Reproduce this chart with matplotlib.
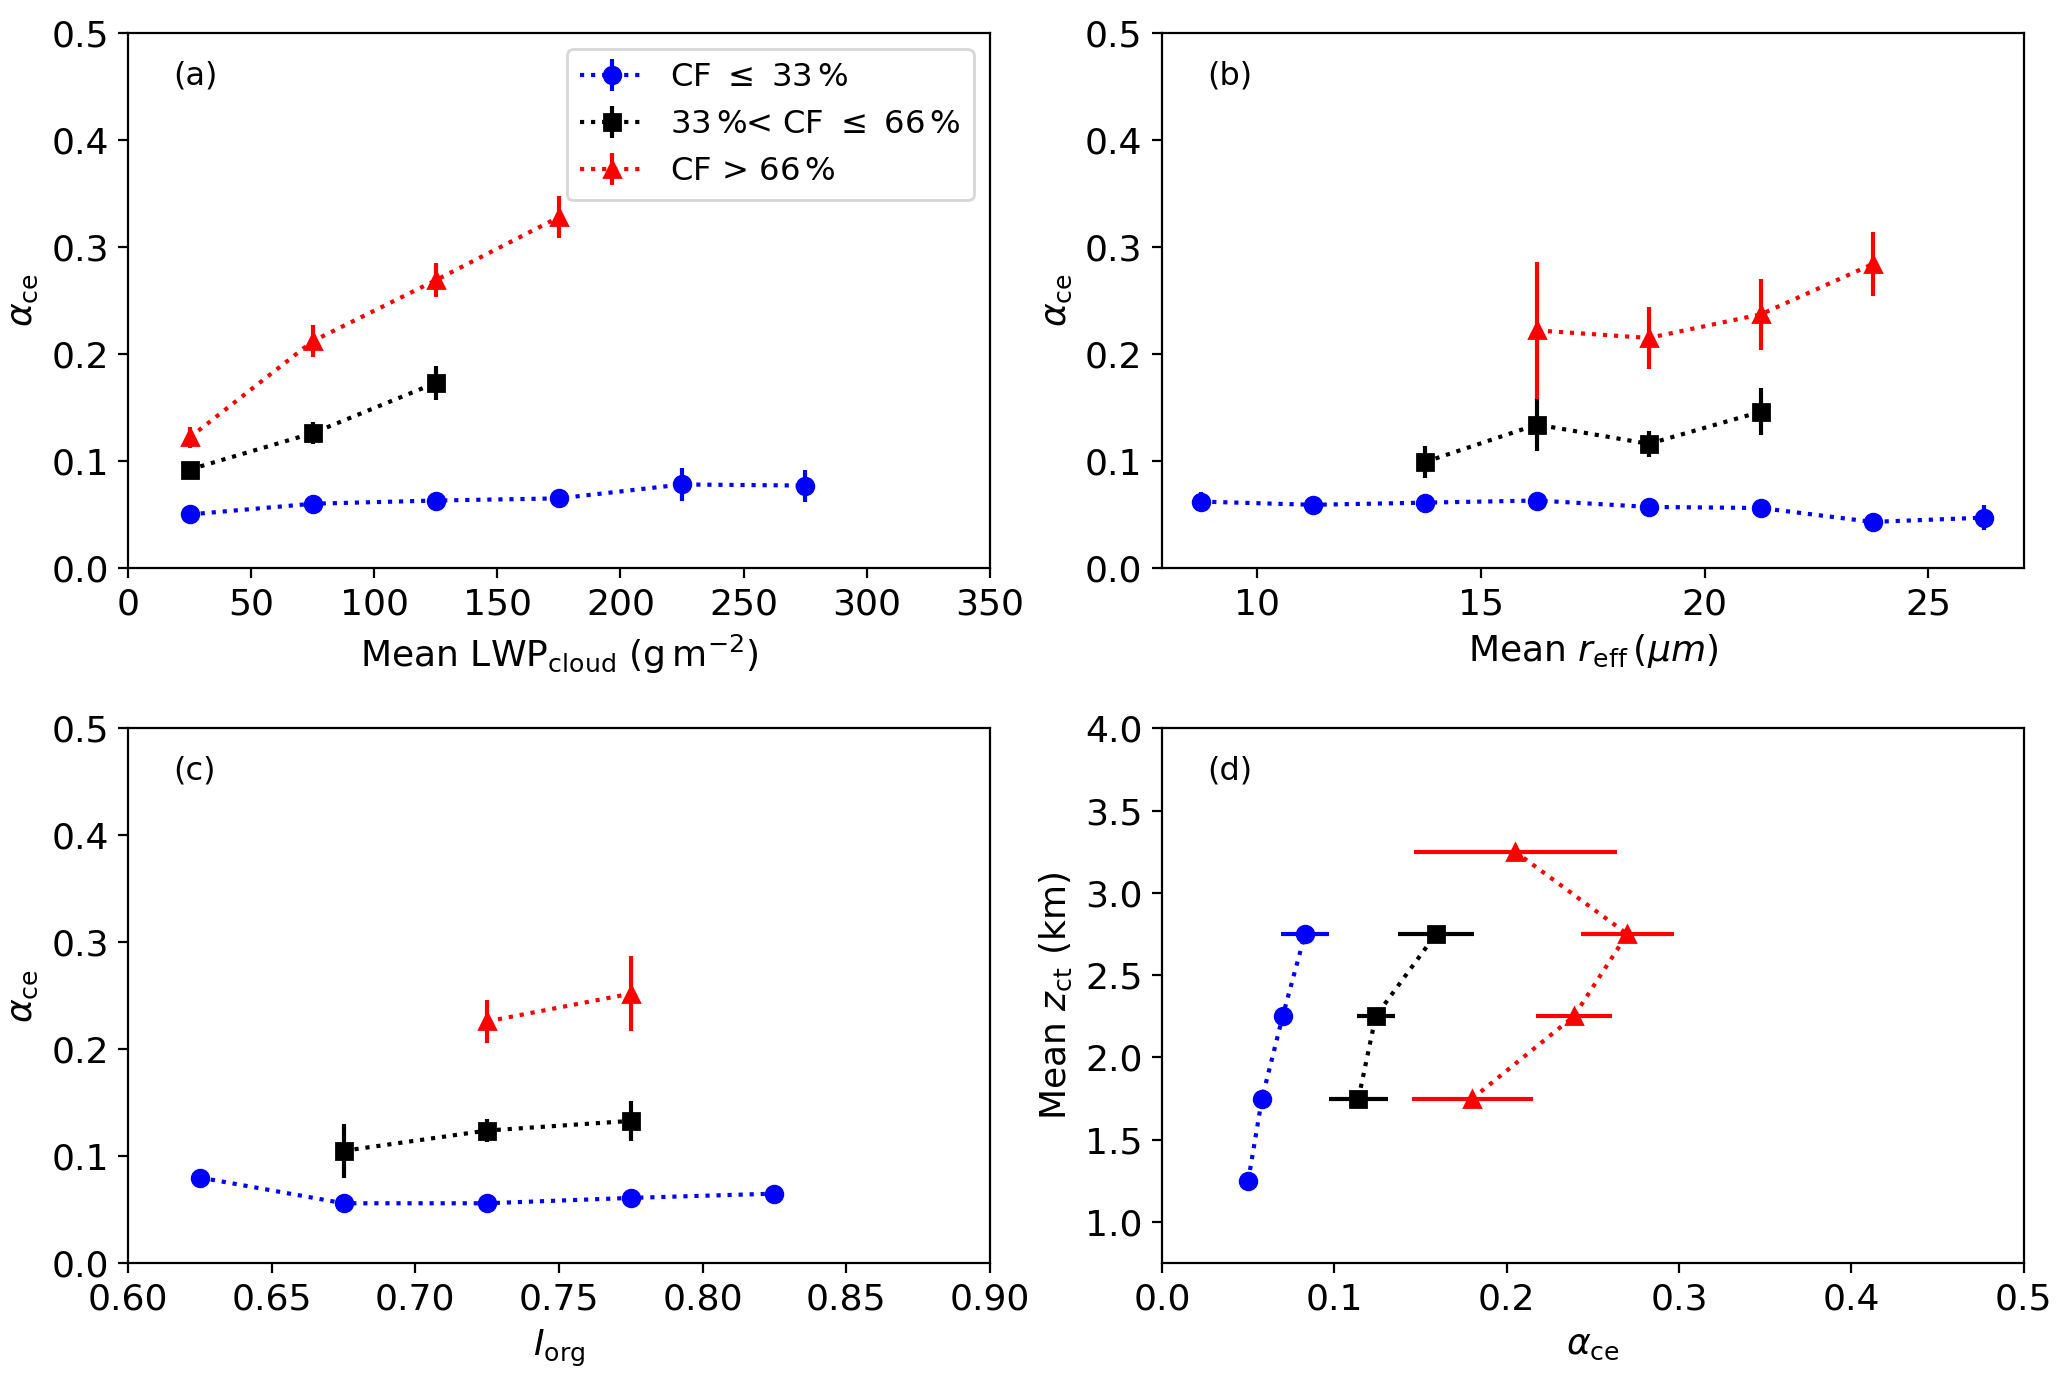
import matplotlib
matplotlib.use('Agg')
import matplotlib.pyplot as plt

# (a) alpha_ce vs mean LWP_cloud
lwp_low = [25, 75, 125, 175, 225, 275]
lwp_low_y = [0.050, 0.060, 0.063, 0.065, 0.078, 0.077]
lwp_low_err = [0.004, 0.004, 0.004, 0.007, 0.015, 0.015]
lwp_mid = [25, 75, 125]
lwp_mid_y = [0.092, 0.126, 0.173]
lwp_mid_err = [0.005, 0.010, 0.016]
lwp_high = [25, 75, 125, 175]
lwp_high_y = [0.122, 0.212, 0.269, 0.328]
lwp_high_err = [0.010, 0.015, 0.016, 0.020]

# (b) alpha_ce vs mean r_eff
reff_low = [8.75, 11.25, 13.75, 16.25, 18.75, 21.25, 23.75, 26.25]
reff_low_y = [0.062, 0.059, 0.061, 0.063, 0.057, 0.056, 0.043, 0.047]
reff_low_err = [0.009, 0.004, 0.004, 0.005, 0.004, 0.007, 0.008, 0.012]
reff_mid = [13.75, 16.25, 18.75, 21.25]
reff_mid_y = [0.099, 0.134, 0.116, 0.146]
reff_mid_err = [0.015, 0.025, 0.012, 0.022]
reff_high = [16.25, 18.75, 21.25, 23.75]
reff_high_y = [0.222, 0.215, 0.237, 0.284]
reff_high_err = [0.064, 0.029, 0.033, 0.030]

# (c) alpha_ce vs I_org
iorg_low = [0.625, 0.675, 0.725, 0.775, 0.825]
iorg_low_y = [0.080, 0.056, 0.056, 0.061, 0.065]
iorg_low_err = [0.008, 0.004, 0.004, 0.004, 0.007]
iorg_mid = [0.675, 0.725, 0.775]
iorg_mid_y = [0.105, 0.124, 0.133]
iorg_mid_err = [0.025, 0.011, 0.019]
iorg_high = [0.725, 0.775]
iorg_high_y = [0.226, 0.252]
iorg_high_err = [0.020, 0.035]

# (d) mean z_ct vs alpha_ce
zct_low = [1.25, 1.75, 2.25, 2.75]
zct_low_x = [0.050, 0.058, 0.070, 0.083]
zct_low_err = [0.002, 0.003, 0.003, 0.014]
zct_mid = [1.75, 2.25, 2.75]
zct_mid_x = [0.114, 0.124, 0.159]
zct_mid_err = [0.017, 0.011, 0.022]
zct_high = [1.75, 2.25, 2.75, 3.25]
zct_high_x = [0.180, 0.239, 0.270, 0.205]
zct_high_err = [0.035, 0.022, 0.027, 0.059]

labels = [r'CF $\leq$ 33$\,$%', r'33$\,$%< CF $\leq$ 66$\,$%', r'CF > 66$\,$%']
colors = ['blue', 'black', 'red']
markers = ['o', 's', '^']

plt.rcParams['font.size'] = 13

fig, axes = plt.subplots(2, 2, figsize=(10.335, 6.895), dpi=200)
fig.subplots_adjust(left=0.062, right=0.979, bottom=0.084, top=0.976,
                    wspace=0.2, hspace=0.3)


def draw(ax, xs, ys, errs, horizontal=False):
    for x, y, e, c, m, lab in zip(xs, ys, errs, colors, markers, labels):
        if horizontal:
            ax.errorbar(x, y, xerr=e, color=c, marker=m, ls=':', lw=1.5,
                        elinewidth=1.5, ms=6, label=lab)
        else:
            ax.errorbar(x, y, yerr=e, color=c, marker=m, ls=':', lw=1.5,
                        elinewidth=1.5, ms=6, label=lab)


def panel_label(ax, s):
    ax.text(0.052, 0.92, s, transform=ax.transAxes, fontsize=11.5,
            ha='left', va='center')


ax = axes[0, 0]
draw(ax, [lwp_low, lwp_mid, lwp_high], [lwp_low_y, lwp_mid_y, lwp_high_y],
     [lwp_low_err, lwp_mid_err, lwp_high_err])
ax.set_xlim(0, 350)
ax.set_ylim(0, 0.5)
ax.set_xlabel(r'Mean LWP$_{\rm cloud}$ (g$\,$m$^{-2}$)')
ax.set_ylabel(r'$\alpha_{\rm ce}$')
panel_label(ax, '(a)')
ax.legend(loc='upper right', fontsize=11.6)

ax = axes[0, 1]
draw(ax, [reff_low, reff_mid, reff_high], [reff_low_y, reff_mid_y, reff_high_y],
     [reff_low_err, reff_mid_err, reff_high_err])
ax.set_ylim(0, 0.5)
ax.set_xlabel(r'Mean $r_{\rm eff}\,(\mu m)$')
ax.set_ylabel(r'$\alpha_{\rm ce}$')
panel_label(ax, '(b)')

ax = axes[1, 0]
draw(ax, [iorg_low, iorg_mid, iorg_high], [iorg_low_y, iorg_mid_y, iorg_high_y],
     [iorg_low_err, iorg_mid_err, iorg_high_err])
ax.set_xlim(0.6, 0.9)
ax.set_ylim(0, 0.5)
ax.set_xlabel(r'$I_{\rm org}$')
ax.set_ylabel(r'$\alpha_{\rm ce}$')
panel_label(ax, '(c)')

ax = axes[1, 1]
draw(ax, [zct_low_x, zct_mid_x, zct_high_x], [zct_low, zct_mid, zct_high],
     [zct_low_err, zct_mid_err, zct_high_err], horizontal=True)
ax.set_xlim(0, 0.5)
ax.set_ylim(0.75, 4.0)
ax.set_xlabel(r'$\alpha_{\rm ce}$')
ax.set_ylabel(r'Mean $z_{\rm ct}$ (km)')
panel_label(ax, '(d)')

fig.savefig('out.png', dpi=200)
